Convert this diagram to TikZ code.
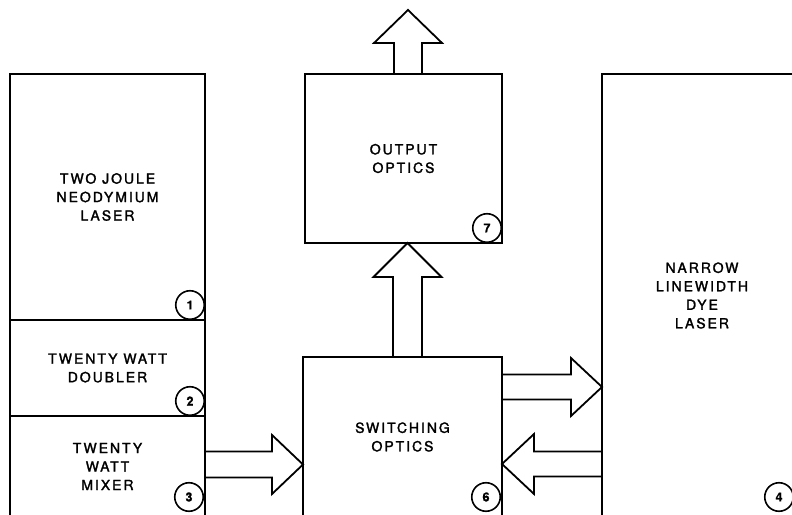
\documentclass[tikz,border=0pt]{standalone}
\usepackage{fontspec}
\newfontfamily\boxfont[LetterSpace=14, FakeBold=1.8]{TeX Gyre Heros}
\newfontfamily\numfont[FakeBold=0.8]{TeX Gyre Heros}
\usetikzlibrary{calc}

\begin{document}
\begin{tikzpicture}[x=1pt, y=1pt,
    box/.style={draw, line width=1.8pt, outer sep=0pt, inner sep=0pt, align=center,
        font=\boxfont\fontsize{14}{18.5}\selectfont},
    num/.style={circle, draw, line width=1.6pt, minimum size=28.5pt, inner sep=0pt,
        font=\numfont\bfseries\fontsize{12.5}{12.5}\selectfont},
    fat/.style n args={3}{line width=1.8pt, line join=miter, to path={
        let \p1=(\tikztostart), \p2=(\tikztotarget),
            \n1={atan2(\y2-\y1,\x2-\x1)}, \n2={veclen(\x2-\x1,\y2-\y1)} in
        ($(\p1)+(\n1+90:#1pt)$) -- ($(\p1)+(\n1:\n2-#3pt)+(\n1+90:#1pt)$)
        -- ($(\p1)+(\n1:\n2-#3pt)+(\n1+90:#2pt)$) -- (\p2)
        -- ($(\p1)+(\n1:\n2-#3pt)+(\n1-90:#2pt)$)
        -- ($(\p1)+(\n1:\n2-#3pt)+(\n1-90:#1pt)$) -- ($(\p1)+(\n1-90:#1pt)$)}}]
    \useasboundingbox (0,0) rectangle (792,514);
    \clip (0,0) rectangle (792,514);

    \node[box, minimum width=195pt, minimum height=246pt] (laser) at (107.5,317) {TWO JOULE\\NEODYMIUM\\LASER};
    \node[box, minimum width=195pt, minimum height=96pt] (doubler) at (107.5,146) {TWENTY WATT\\DOUBLER};
    \node[box, minimum width=195pt, minimum height=101pt] (mix) at (107.5,47.5) {TWENTY\\WATT\\MIXER};

    \node[box, minimum width=199pt, minimum height=160pt] (switch) at (402.5,77) {SWITCHING\\OPTICS};
    \node[box, minimum width=197pt, minimum height=169pt] (out) at (403.5,355.5) {OUTPUT\\OPTICS};
    \node[box, minimum width=200pt, minimum height=443pt] (dye) at (702,218.5) {NARROW\\LINEWIDTH\\DYE\\LASER};

    \node[num] (n1) at ([shift={(-15,15)}]laser.south east) {1};
    \node[num] (n2) at ([shift={(-15,15)}]doubler.south east) {2};
    \node[num] (n3) at ([shift={(-16,20)}]mix.south east) {3};
    \node[num] (n4) at ([shift={(-23,20)}]dye.south east) {4};
    \node[num] (n6) at ([shift={(-16,20)}]switch.south east) {6};
    \node[num] (n7) at ([shift={(-15,15)}]out.south east) {7};

    \coordinate (mx) at ([yshift=2pt]mix.east);
    \coordinate (sr) at ([yshift=50pt]switch.east);
    \coordinate (sl) at ([yshift=-27pt]switch.east);
    \coordinate (su) at ([xshift=5pt]switch.north);
    \coordinate (ou) at ([xshift=4.5pt]out.north);
    \coordinate (beam) at (408,504);

    \draw[fat={13}{29.5}{31}] (mx) to (mx -| switch.west);
    \draw[fat={12.5}{29}{31}] (sr) to (sr -| dye.west);
    \draw[fat={12.5}{30}{32}] (sl -| dye.west) to (sl);
    \draw[fat={14.5}{34}{34}] (su) to (su |- out.south);
    \draw[fat={14}{34}{33}] (ou) to (beam);
\end{tikzpicture}
\end{document}
